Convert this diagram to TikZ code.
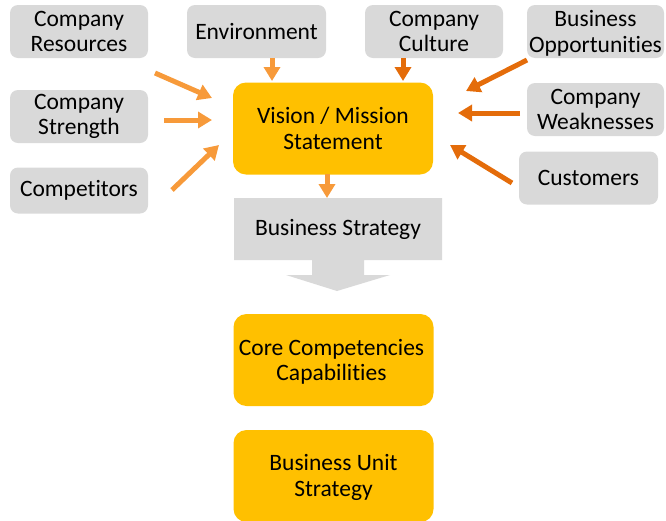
\documentclass[tikz,border=0pt]{standalone}
\usepackage{fontspec}
\setmainfont[Ligatures={NoCommon}]{Carlito}
\usetikzlibrary{arrows.meta}
\definecolor{boxgray}{HTML}{D9D9D9}
\definecolor{boxyel}{HTML}{FFC000}
\definecolor{arrlight}{HTML}{F79A3A}
\definecolor{arrdark}{HTML}{E46C0A}
\newcommand{\dfont}{\fontsize{23.5}{25.5}\selectfont}
\tikzset{
  graybox/.style={fill=boxgray, rounded corners=8pt, inner sep=0pt, align=center,
    font=\dfont},
  yelbox/.style={fill=boxyel, rounded corners=13pt, inner sep=0pt, align=center,
    minimum width=200pt, font=\dfont},
  larr/.style={draw=arrlight, line width=5pt, -{Triangle[width=16pt,length=14pt]}},
  darr/.style={draw=arrdark, line width=5pt, -{Triangle[width=16pt,length=14pt]}},
}
\begin{document}
\begin{tikzpicture}[x=1pt,y=-1pt]
\useasboundingbox (0,0) rectangle (666,520);
% gray boxes
\node[graybox, minimum width=138pt, minimum height=53pt] (cr) at (79,31.5) {Company\\Resources};
\node[graybox, minimum width=139pt, minimum height=53pt] (env) at (256.5,31.5) {Environment};
\node[graybox, minimum width=138pt, minimum height=53pt] (cc) at (434,31.5) {Company\\Culture};
\fill[boxgray, rounded corners=8pt] (527,5) rectangle (664,58);
\node[font=\dfont, align=center, inner sep=0pt] (bo) at (595.5,33.5) {Business\\Opportunities};
\node[graybox, minimum width=138pt, minimum height=53pt] (cs) at (79,116.5) {Company\\Strength};
\node[graybox, minimum width=138pt, minimum height=46pt] (comp) at (79,190.5) {Competitors};
\node[graybox, minimum width=137pt, minimum height=53pt] (cw) at (595.5,109.5) {Company\\Weaknesses};
\node[graybox, minimum width=139pt, minimum height=53pt] (cust) at (588.5,178) {Customers};
% yellow boxes
\node[yelbox, minimum height=92pt] (vm) at (333,128.5) {Vision / Mission\\Statement};
\node[yelbox, minimum height=92pt] (core) at (333.5,360) {};
\node[font=\dfont, align=center, inner sep=0pt] (coret) at (331.5,362) {Core Competencies\\Capabilities};
\node[yelbox, minimum height=92pt] (bus) at (333.5,476) {};
\node[font=\dfont, align=center, inner sep=0pt] (bust) at (333.5,477.5) {Business Unit\\Strategy};
% business strategy block arrow
\fill[boxgray] (234,198) -- (442,198) -- (442,260) -- (364,260) -- (364,275) -- (390,275)
  -- (337,291) -- (286,275) -- (312,275) -- (312,260) -- (234,260) -- cycle;
\node[font=\dfont, inner sep=0pt] (bs) at (338,229.5) {Business Strategy};
% coordinates for arrows
\coordinate (a1s) at (155,73);  \coordinate (a1e) at (212,98);
\coordinate (a2s) at (164,120); \coordinate (a2e) at (212,120);
\coordinate (a3s) at (172,190); \coordinate (a3e) at (219,145);
\coordinate (b1s) at (527,60);  \coordinate (b1e) at (466,91);
\coordinate (b2s) at (520,113); \coordinate (b2e) at (458,113);
\coordinate (b3s) at (512,183); \coordinate (b3e) at (450,145);
\draw[larr] (a1s) -- (a1e);
\draw[larr] (a2s) -- (a2e);
\draw[larr] (a3s) -- (a3e);
\draw[larr] (env.south -| 272,0) -- (272,81);
\draw[larr] (327,174) -- (327,198);
\draw[darr] (cc.south -| 403,0) -- (403,81);
\draw[darr] (b1s) -- (b1e);
\draw[darr] (b2s) -- (b2e);
\draw[darr] (b3s) -- (b3e);
\end{tikzpicture}
\end{document}
